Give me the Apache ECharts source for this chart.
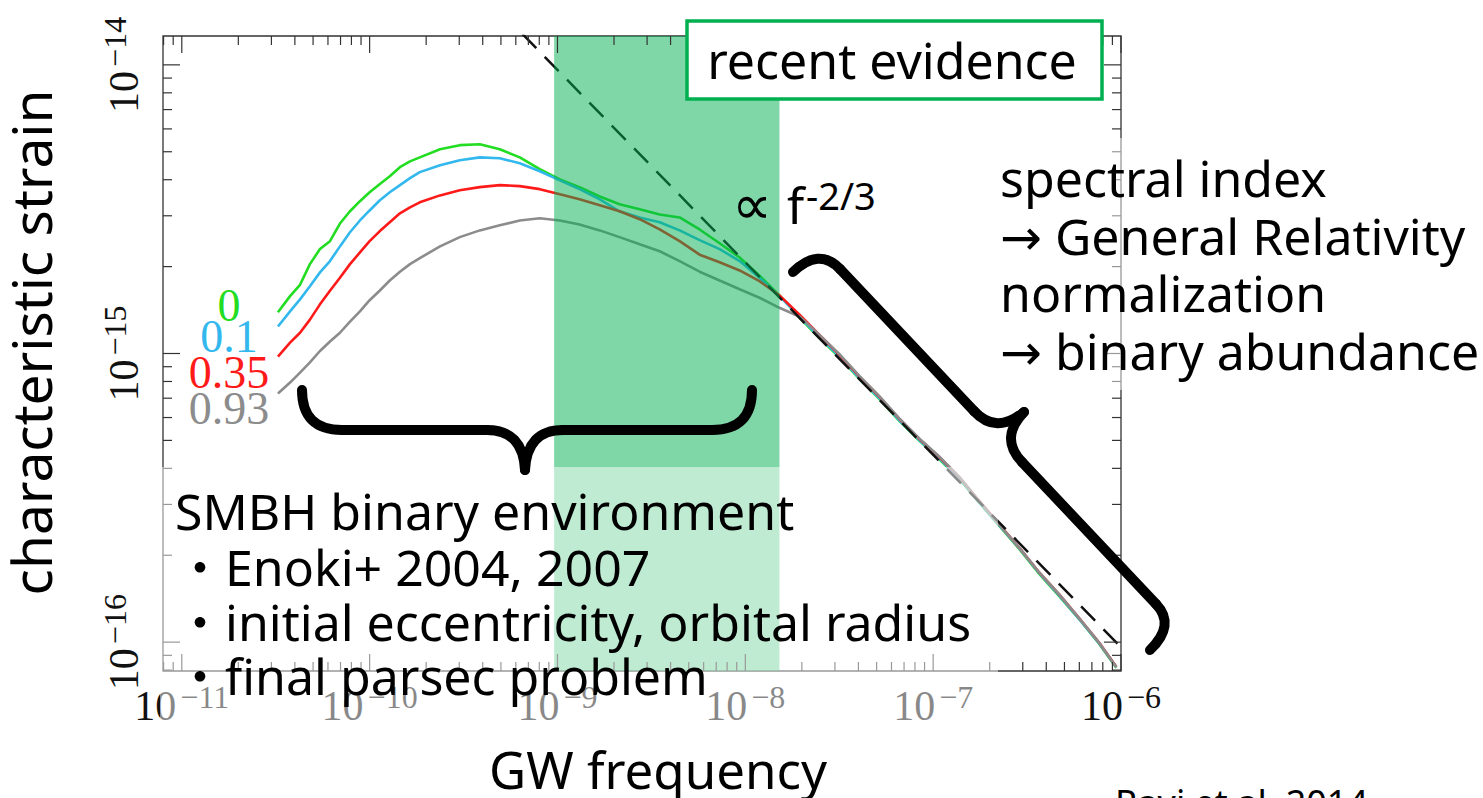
<!DOCTYPE html>
<html>
<head>
<meta charset="utf-8">
<script src="https://cdn.jsdelivr.net/npm/echarts@6/dist/echarts.min.js"></script>
<style>
html,body{margin:0;padding:0;background:#fff;}
#chart{width:1483px;height:798px;}
</style>
</head>
<body>
<div id="chart"></div>
<script>
// ---- data ----
const freq = [3.25e-11, 3.77e-11, 4.26e-11, 4.81e-11, 5.44e-11, 6.15e-11, 6.95e-11, 7.86e-11, 8.88e-11, 1.00e-10,
  1.13e-10, 1.28e-10, 1.45e-10, 1.64e-10, 1.85e-10, 2.37e-10, 3.02e-10, 3.86e-10, 4.93e-10, 6.30e-10,
  8.05e-10, 1.03e-9, 1.31e-9, 1.68e-9, 2.14e-9, 2.74e-9, 3.50e-9, 4.47e-9, 5.71e-9, 7.30e-9,
  9.33e-9, 1.19e-8, 1.52e-8, 1.95e-8, 2.48e-8, 3.17e-8, 4.06e-8, 5.18e-8, 6.62e-8, 8.46e-8,
  1.08e-7, 1.38e-7, 1.76e-7, 2.25e-7, 2.88e-7, 3.68e-7, 4.70e-7, 6.00e-7, 7.66e-7, 9.44e-7];

const strainE0 = [1.39e-15, 1.58e-15, 1.73e-15, 2.04e-15, 2.30e-15, 2.45e-15, 2.82e-15, 3.11e-15, 3.37e-15, 3.62e-15,
  3.86e-15, 4.11e-15, 4.42e-15, 4.63e-15, 4.78e-15, 5.10e-15, 5.27e-15, 5.31e-15, 5.10e-15, 4.78e-15,
  4.35e-15, 4.01e-15, 3.77e-15, 3.50e-15, 3.29e-15, 3.16e-15, 3.03e-15, 2.96e-15, 2.69e-15, 2.41e-15,
  2.15e-15, 1.86e-15, 1.59e-15, 1.33e-15, 1.13e-15, 9.70e-16, 8.15e-16, 6.95e-16, 5.83e-16, 4.98e-16,
  4.30e-16, 3.67e-16, 3.04e-16, 2.53e-16, 2.10e-16, 1.72e-16, 1.44e-16, 1.20e-16, 9.85e-17, 8.15e-17];

const strainE01 = [1.24e-15, 1.40e-15, 1.54e-15, 1.71e-15, 1.91e-15, 2.09e-15, 2.35e-15, 2.63e-15, 2.89e-15, 3.13e-15,
  3.39e-15, 3.62e-15, 3.83e-15, 4.05e-15, 4.25e-15, 4.49e-15, 4.67e-15, 4.78e-15, 4.75e-15, 4.56e-15,
  4.28e-15, 3.98e-15, 3.71e-15, 3.42e-15, 3.11e-15, 2.96e-15, 2.85e-15, 2.67e-15, 2.47e-15, 2.30e-15,
  2.09e-15, 1.83e-15, 1.58e-15, 1.34e-15, 1.14e-15, 9.78e-16, 8.20e-16, 7.00e-16, 5.86e-16, 5.00e-16,
  4.33e-16, 3.69e-16, 3.05e-16, 2.54e-16, 2.11e-16, 1.73e-16, 1.45e-16, 1.20e-16, 9.90e-17, 8.18e-17];

const strainE035 = [9.76e-16, 1.09e-15, 1.18e-15, 1.31e-15, 1.48e-15, 1.65e-15, 1.83e-15, 2.04e-15, 2.24e-15, 2.45e-15,
  2.65e-15, 2.85e-15, 3.06e-15, 3.21e-15, 3.34e-15, 3.53e-15, 3.68e-15, 3.77e-15, 3.83e-15, 3.80e-15,
  3.71e-15, 3.56e-15, 3.42e-15, 3.26e-15, 3.11e-15, 2.92e-15, 2.69e-15, 2.45e-15, 2.20e-15, 2.07e-15,
  1.94e-15, 1.78e-15, 1.59e-15, 1.36e-15, 1.16e-15, 9.90e-16, 8.30e-16, 7.08e-16, 5.93e-16, 5.05e-16,
  4.37e-16, 3.72e-16, 3.08e-16, 2.56e-16, 2.12e-16, 1.74e-16, 1.46e-16, 1.21e-16, 9.95e-17, 8.22e-17];

const strainE093 = [7.27e-16, 7.93e-16, 8.59e-16, 9.31e-16, 1.02e-15, 1.10e-15, 1.18e-15, 1.29e-15, 1.40e-15, 1.53e-15,
  1.65e-15, 1.79e-15, 1.92e-15, 2.04e-15, 2.14e-15, 2.35e-15, 2.53e-15, 2.67e-15, 2.78e-15, 2.89e-15,
  2.94e-15, 2.89e-15, 2.80e-15, 2.67e-15, 2.53e-15, 2.39e-15, 2.26e-15, 2.09e-15, 1.92e-15, 1.79e-15,
  1.67e-15, 1.56e-15, 1.44e-15, 1.34e-15, 1.16e-15, 9.95e-16, 8.35e-16, 7.10e-16, 5.95e-16, 5.07e-16,
  4.39e-16, 3.73e-16, 3.08e-16, 2.55e-16, 2.12e-16, 1.74e-16, 1.46e-16, 1.21e-16, 9.95e-17, 8.20e-17];

// f^-2/3 reference line (two end points)
const slopeF = [6.5e-10, 1.0e-6];
const slopeH = [1.28e-14, 9.6e-17];

// "recent evidence" frequency band
const bandF = [9.6e-10, 1.52e-8];

// eccentricity labels
const eccLabels = ['0', '0.1', '0.35', '0.93'];
const eccColors = ['#22DD22', '#33B8EE', '#FF1A1A', '#8C8C8C'];

// axes
const X_MIN = 7.943e-12, X_MAX = 1e-6;
const Y_MIN = 7.943e-17, Y_MAX = 1.2589e-14;
const xTickExp = [-11, -10, -9, -8, -7, -6];
const yTickExp = [-16, -15, -14];
const minorMult = [2, 3, 4, 5, 6, 7, 8, 9];

// ---- chart ----
const SANS = "'Noto Sans', 'DejaVu Sans', 'Noto Sans CJK JP', sans-serif";
const SERIF = "'Liberation Serif', 'DejaVu Serif', serif";

function expLabel(v, exps) {
  if (!(v > 0)) return '';
  const e = Math.log10(v);
  const n = Math.round(e);
  if (Math.abs(e - n) > 1e-3 || exps.indexOf(n) < 0) return '';
  return '{b|10}{s|\u2212' + Math.abs(n) + '}';
}
const labelRich = {
  b: { fontFamily: SERIF, fontSize: 42, lineHeight: 50, color: '#111' },
  s: { fontFamily: SERIF, fontSize: 32, lineHeight: 22, verticalAlign: 'top', color: '#111', padding: [0, 0, 0, 4] }
};

function pairs(ys) { return freq.map((f, i) => [f, ys[i]]); }

const chart = echarts.init(document.getElementById('chart'), null, { renderer: 'svg' });

const lineSeries = [strainE0, strainE01, strainE035, strainE093].map((ys, k) => ({
  type: 'line',
  name: eccLabels[k],
  data: pairs(ys),
  showSymbol: false,
  symbol: 'none',
  z: 2,
  lineStyle: { color: eccColors[k], width: 2.6 },
  itemStyle: { color: eccColors[k] },
  emphasis: { disabled: true }
}));

function txt(t, x, y, size, extra) {
  return Object.assign({ type: 'text', silent: true, z: 61, x: x, y: y,
    style: Object.assign({ text: t, fontFamily: SANS, fontSize: size, fill: '#000',
      align: 'left', verticalAlign: 'middle', textAlign: 'left', textVerticalAlign: 'middle' }, extra || {}) });
}
const braceStyle = { fill: null, stroke: '#000', lineWidth: 10, lineCap: 'round', lineJoin: 'round' };
function seg(x1, y1, x2, y2) {
  return { type: 'line', silent: true, z: 70, shape: { x1, y1, x2, y2 }, style: braceStyle };
}
function curve(x1, y1, cx, cy, x2, y2) {
  return { type: 'bezierCurve', silent: true, z: 70, shape: { x1, y1, cpx1: cx, cpy1: cy, x2, y2 }, style: braceStyle };
}

const option = {
  animation: false,
  backgroundColor: '#fff',
  grid: {
    left: 163, top: 36, right: 362, bottom: 127,
    outerBoundsMode: 'none', containLabel: false,
    show: true, borderColor: '#333', borderWidth: 1.3, backgroundColor: 'transparent'
  },
  xAxis: {
    type: 'log', logBase: 10, min: X_MIN, max: X_MAX,
    name: 'GW frequency', nameLocation: 'middle', nameGap: 72,
    nameTextStyle: { fontFamily: SANS, fontSize: 51, lineHeight: 52, color: '#000', padding: [0, 0, 0, 32] },
    axisLine: { show: false }, axisTick: { show: false }, splitLine: { show: false }, minorTick: { show: false },
    axisLabel: { margin: 10, formatter: v => expLabel(v, xTickExp), rich: labelRich }
  },
  yAxis: {
    type: 'log', logBase: 10, min: Y_MIN, max: Y_MAX,
    name: 'characteristic strain', nameLocation: 'middle', nameGap: 105,
    nameTextStyle: { fontFamily: SANS, fontSize: 55, lineHeight: 55, color: '#000', padding: [0, 0, 0, 22] },
    axisLine: { show: false }, axisTick: { show: false }, splitLine: { show: false }, minorTick: { show: false },
    axisLabel: { margin: 14, rotate: 90, formatter: v => expLabel(v, yTickExp), rich: labelRich }
  },
  series: [
    ...lineSeries,
    {
      type: 'line', name: 'f^-2/3', data: [[slopeF[0], slopeH[0]], [slopeF[1], slopeH[1]]],
      showSymbol: false, symbol: 'none', z: 2,
      lineStyle: { color: '#111', width: 2.5, type: [20, 12] }, emphasis: { disabled: true }
    },
    {
      type: 'custom', name: 'band', silent: true, z: 3,
      data: [[bandF[0], bandF[1]]],
      renderItem: function (params, api) {
        const a = api.coord([api.value(0), Y_MAX]);
        const b = api.coord([api.value(1), Y_MIN]);
        return { type: 'rect', shape: { x: a[0], y: a[1], width: b[0] - a[0], height: b[1] - a[1] },
          style: { fill: 'rgba(0,176,80,0.5)' } };
      }
    },
    {
      type: 'custom', name: 'ticks', silent: true, z: 4,
      data: [[X_MIN, Y_MIN]],
      renderItem: function (params, api) {
        const ch = [];
        const st = { stroke: '#333', lineWidth: 1.2 };
        const yb = api.coord([X_MIN, Y_MIN])[1], yt = api.coord([X_MIN, Y_MAX])[1];
        const xl = api.coord([X_MIN, Y_MIN])[0], xr = api.coord([X_MAX, Y_MIN])[0];
        function xt(v, len) {
          const x = api.coord([v, Y_MIN])[0];
          ch.push({ type: 'line', shape: { x1: x, y1: yb, x2: x, y2: yb - len }, style: st });
          ch.push({ type: 'line', shape: { x1: x, y1: yt, x2: x, y2: yt + len }, style: st });
        }
        function ytk(v, len) {
          const y = api.coord([X_MIN, v])[1];
          ch.push({ type: 'line', shape: { x1: xl, y1: y, x2: xl + len, y2: y }, style: st });
          ch.push({ type: 'line', shape: { x1: xr, y1: y, x2: xr - len, y2: y }, style: st });
        }
        for (let e = xTickExp[0] - 1; e <= xTickExp[xTickExp.length - 1]; e++) {
          const p = Math.pow(10, e);
          if (xTickExp.indexOf(e) >= 0) xt(p, 17);
          minorMult.forEach(m => { const v = m * p; if (v > X_MIN * 1.001 && v < X_MAX) xt(v, 9); });
        }
        for (let e = yTickExp[0] - 1; e <= yTickExp[yTickExp.length - 1]; e++) {
          const p = Math.pow(10, e);
          if (yTickExp.indexOf(e) >= 0) ytk(p, 17);
          minorMult.forEach(m => { const v = m * p; if (v > Y_MIN * 1.001 && v < Y_MAX) ytk(v, 9); });
        }
        return { type: 'group', children: ch };
      }
    }
  ],
  graphic: { elements: [
    // translucent white text boxes
    { type: 'rect', silent: true, z: 50, shape: { x: 160, y: 467, width: 838, height: 263 }, style: { fill: 'rgba(255,255,255,0.5)' } },
    { type: 'rect', silent: true, z: 50, shape: { x: 990, y: 138, width: 493, height: 252 }, style: { fill: 'rgba(255,255,255,0.5)' } },
    // recent evidence box
    { type: 'rect', silent: true, z: 60, shape: { x: 687, y: 21, width: 415, height: 78 }, style: { fill: '#fff', stroke: '#00B050', lineWidth: 3.5 } },
    txt('recent evidence', 892, 60, 50, { align: 'center', textAlign: 'center' }),
    // eccentricity labels
    ...eccLabels.map((t, k) => txt(t, 229, [305, 336, 372, 408][k], 46,
      { fontFamily: SERIF, fill: eccColors[k], align: 'center', textAlign: 'center', lineHeight: 30 })),
    // proportional annotation
    txt('\u221D', 752, 204, 56, { fontFamily: "'DejaVu Sans', sans-serif", align: 'center', textAlign: 'center' }),
    txt('f', 787, 205, 50),
    txt('-2/3', 806, 195, 38),
    // right annotations
    ...['spectral index', '\u2192 General Relativity', 'normalization', '\u2192 binary abundance'].map((t, k) =>
      txt(t, 1000, [178, 236, 293, 351][k], 50)),
    // lower-left annotations
    ...['SMBH binary environment', '\u30FBEnoki+ 2004, 2007', '\u30FBinitial eccentricity, orbital radius', '\u30FBfinal parsec problem'].map((t, k) =>
      txt(t, 175, [511, 567, 622, 676][k], 50)),
    // citation
    txt('Ravi et al. 2014', 1115, 784, 36, { verticalAlign: 'top', textVerticalAlign: 'top' }),
    // horizontal brace
    curve(302, 390, 302, 430, 342, 430), seg(342, 430, 487, 430), curve(487, 430, 523, 430, 525, 470),
    curve(525, 470, 527, 430, 563, 430), seg(563, 430, 712, 430), curve(712, 430, 752, 430, 752, 390),
    // diagonal brace
    curve(793, 272, 819, 247, 840, 269), seg(840, 269, 974, 411), curve(974, 411, 996, 435, 1024, 412),
    curve(1024, 412, 999, 438, 1022, 462), seg(1022, 462, 1156, 604), curve(1156, 604, 1176, 625, 1150, 650)
  ] }
};

chart.setOption(option);
</script>
</body>
</html>
